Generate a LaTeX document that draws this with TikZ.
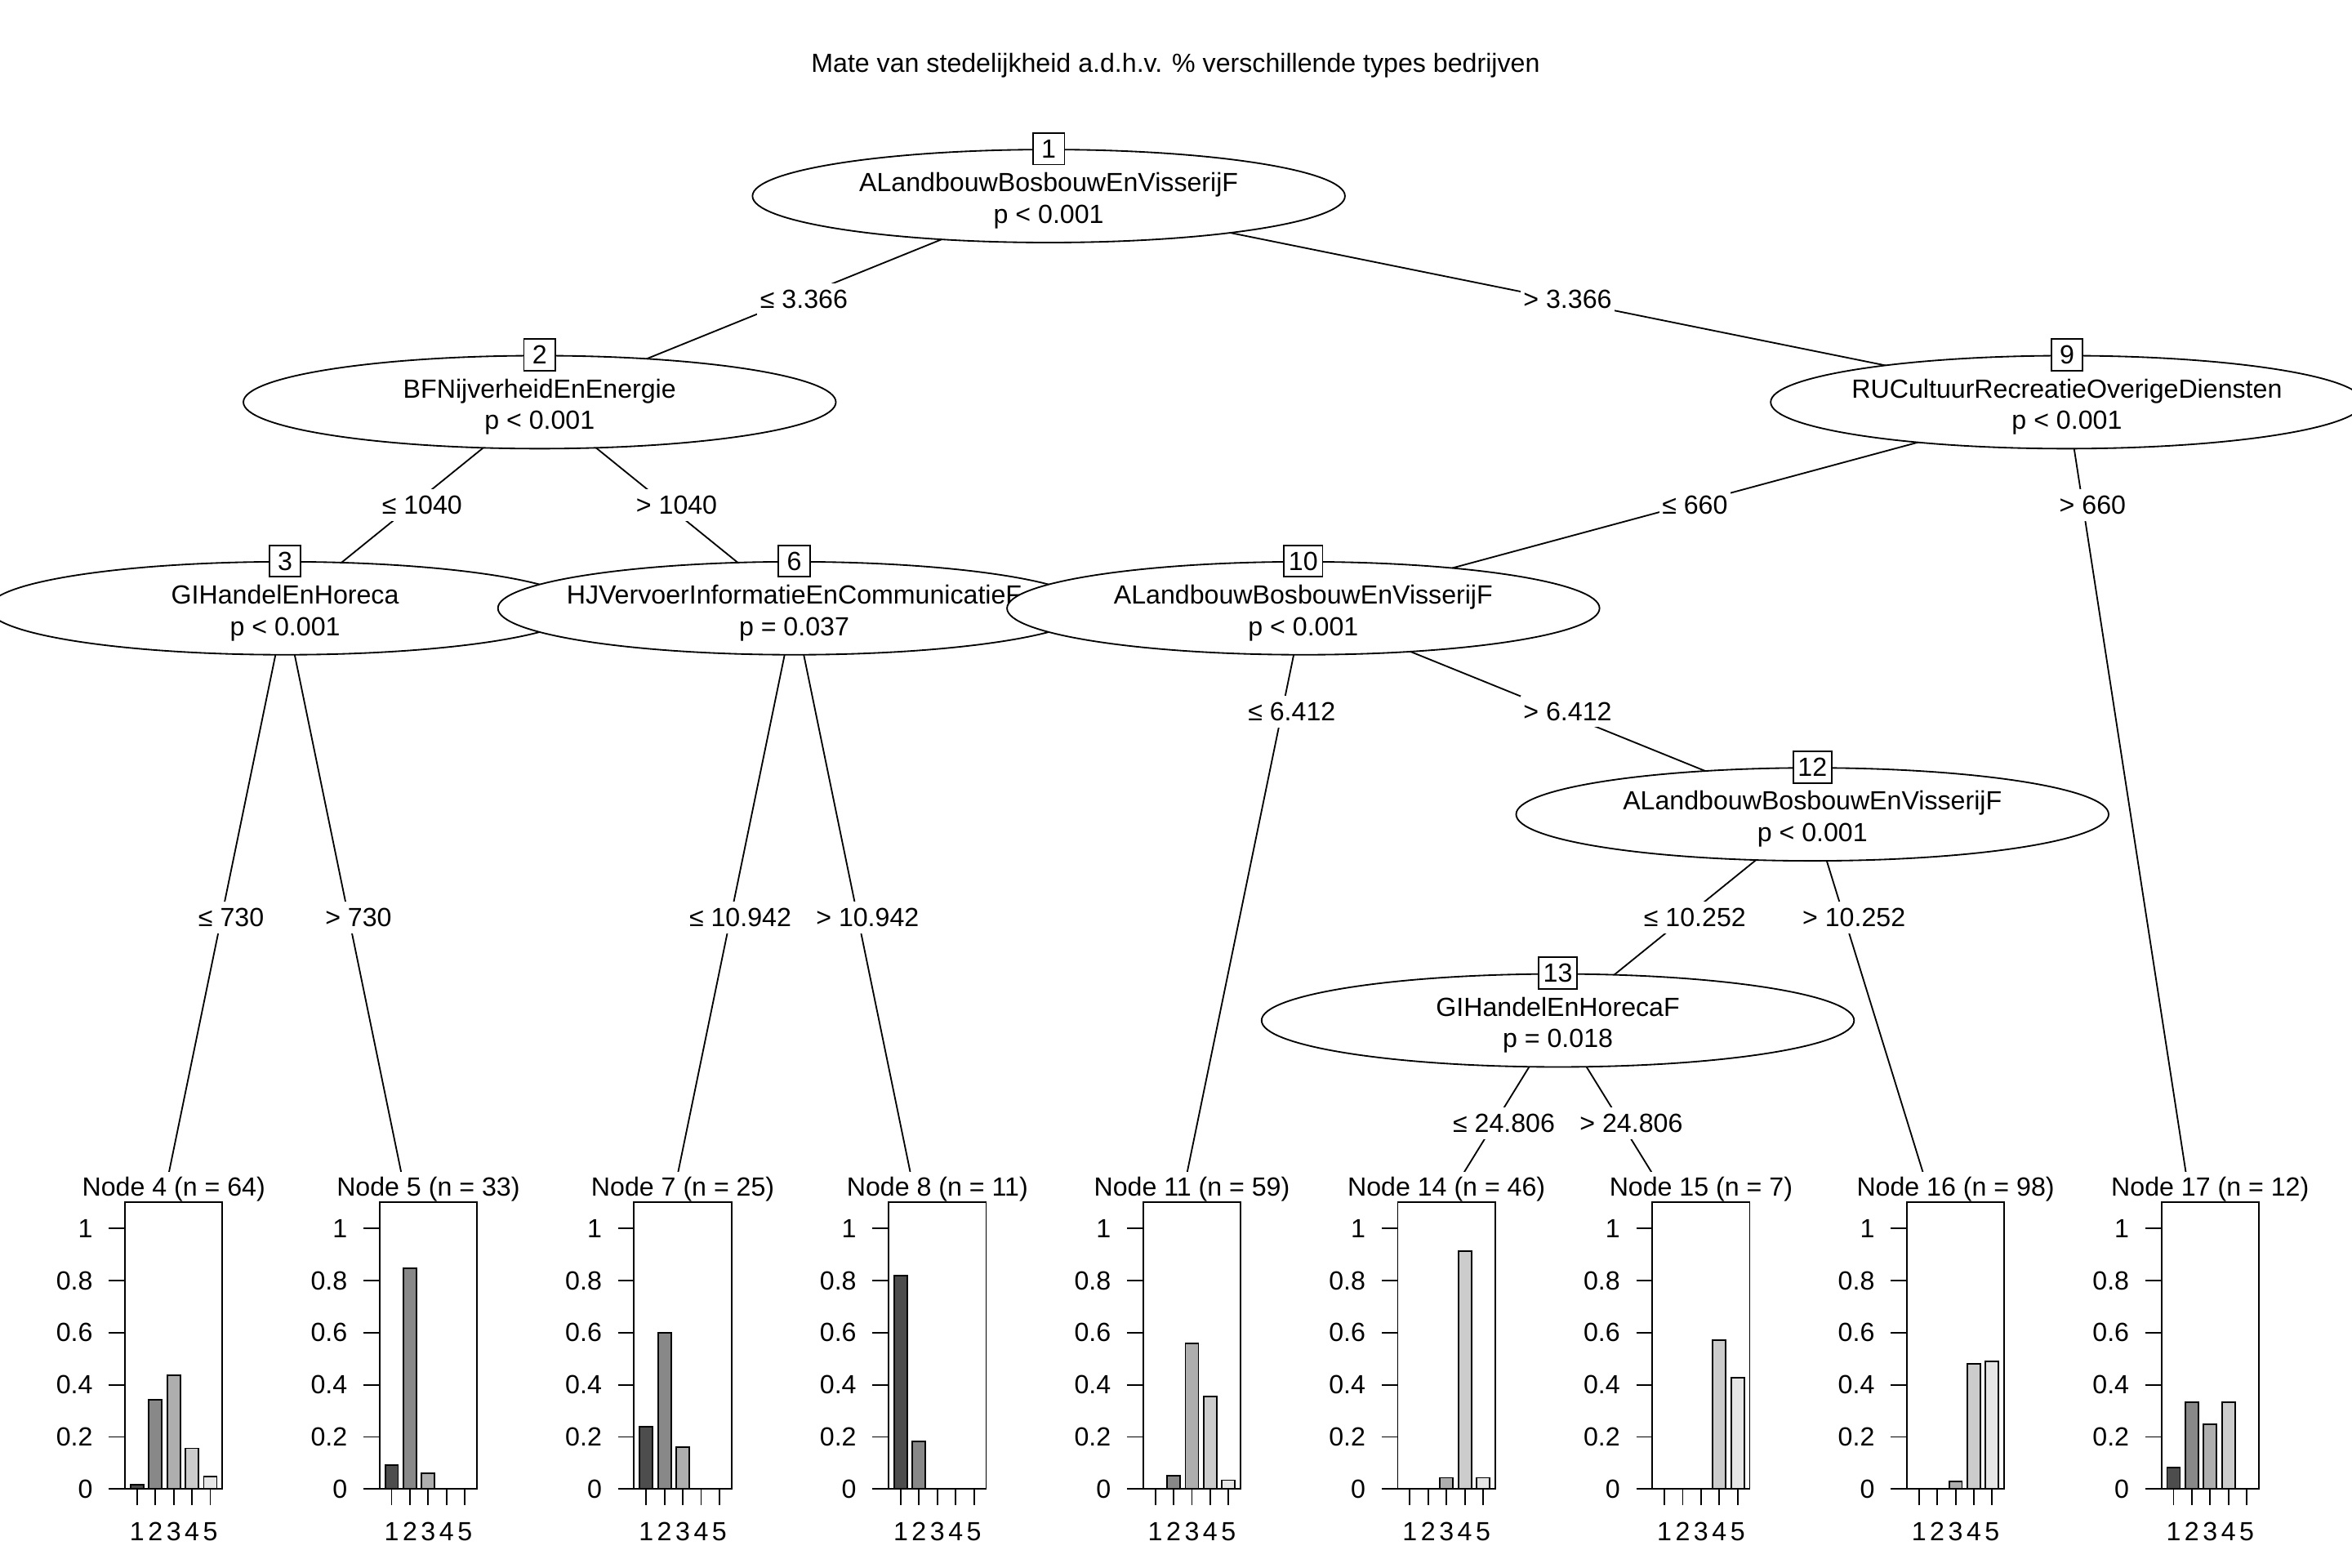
\documentclass[tikz,border=0pt]{standalone}
\usepackage{fontspec}
\setmainfont{Liberation Sans}
\usetikzlibrary{shapes.geometric,backgrounds}
\definecolor{bar1}{HTML}{4D4D4D}
\definecolor{bar2}{HTML}{888888}
\definecolor{bar3}{HTML}{AEAEAE}
\definecolor{bar4}{HTML}{CCCCCC}
\definecolor{bar5}{HTML}{E6E6E6}
% two centred lines that do not widen the ellipse
\newcommand{\splittext}[2]{\rule{0pt}{19pt}\makebox[0pt]{#1}\\\makebox[0pt]{#2}}
% terminal node: label, bar chart and axes
\newcommand{\barpanel}[4]{%
  \node[tlabel] (t#1) at (#3,797.6) {Node #1 (n = #2)};
  \coordinate (v#1) at ({#3-10.6},817.7);
  \begin{scope}[shift={(#3,992.7)}]
    \filldraw[fill=white] (-32.5,0) rectangle (32.5,-191.1);
    \foreach \h [count=\i] in {#4}
      \filldraw[fill=bar\i] ({(\i-3)*12.2-4.35},0) rectangle ++(8.7,{-\h*173.7});
    \draw (-32.5,0) rectangle (32.5,-191.1);
    \foreach \yv/\yl in {0/0,0.2/0.2,0.4/0.4,0.6/0.6,0.8/0.8,1/1} {
      \draw (-43.2,{-\yv*173.7}) -- (-32.5,{-\yv*173.7});
      \node[ticklab, anchor=east] at (-53.5,{-\yv*173.7}) {\yl};
    }
    \foreach \i in {1,...,5} {
      \draw ({(\i-3)*12.2},0) -- ({(\i-3)*12.2},10.9);
      \node[ticklab] at ({(\i-3)*12.2},28.3) {\i};
    }
  \end{scope}}

\begin{document}
\begin{tikzpicture}
        [x=1pt, y=-1pt, font=\fontsize{17.5}{21}\selectfont, line width=1pt,
        inner/.style={ellipse, draw, fill=white, minimum width=395,
        minimum height=62, inner sep=0pt, align=center},
        idbox/.style={draw, fill=white, minimum size=21, inner xsep=3.1pt,
        inner ysep=0pt},
        elabel/.style={fill=white, inner xsep=2pt, inner ysep=0pt,
        minimum height=21, xshift=6.5, pos=.5},
        tlabel/.style={fill=white, inner sep=0pt, text height=16.6,
        text depth=4.2, anchor=base},
        ticklab/.style={inner sep=0pt}]
        \useasboundingbox (0,0) rectangle (1568,1045.33);
        \node[anchor=base] (title) at (783.7,48.4)
            {Mate van stedelijkheid a.d.h.v. \% verschillende types bedrijven};

        % inner nodes
        \node[inner] (n1) at (699.15,130.7)
            {\splittext{ALandbouwBosbouwEnVisserijF}{p < 0.001}};
        \node[idbox] at (n1.north) {1};
        \node[inner] (n2) at (359.75,268.1)
            {\splittext{BFNijverheidEnEnergie}{p < 0.001}};
        \node[idbox] at (n2.north) {2};
        \node[inner] (n3) at (190.05,405.5)
            {\splittext{GIHandelEnHoreca}{p < 0.001}};
        \node[idbox] at (n3.north) {3};
        \node[inner] (n6) at (529.45,405.5)
            {\splittext{HJVervoerInformatieEnCommunicatieF}{p = 0.037}};
        \node[idbox] at (n6.north) {6};
        \node[inner] (n9) at (1377.95,268.1)
            {\splittext{RUCultuurRecreatieOverigeDiensten}{p < 0.001}};
        \node[idbox] at (n9.north) {9};
        \node[inner] (n10) at (868.85,405.5)
            {\splittext{ALandbouwBosbouwEnVisserijF}{p < 0.001}};
        \node[idbox] at (n10.north) {10};
        \node[inner] (n12) at (1208.25,542.9)
            {\splittext{ALandbouwBosbouwEnVisserijF}{p < 0.001}};
        \node[idbox] at (n12.north) {12};
        \node[inner] (n13) at (1038.55,680.3)
            {\splittext{GIHandelEnHorecaF}{p = 0.018}};
        \node[idbox] at (n13.north) {13};

        % terminal nodes
        \barpanel{4}{64}{115.8}{0.0156,0.3438,0.4375,0.1563,0.0469}
        \barpanel{5}{33}{285.5}{0.0909,0.8485,0.0606,0,0}
        \barpanel{7}{25}{455.2}{0.24,0.6,0.16,0,0}
        \barpanel{8}{11}{624.9}{0.8182,0.1818,0,0,0}
        \barpanel{11}{59}{794.6}{0,0.0508,0.5593,0.3559,0.0339}
        \barpanel{14}{46}{964.3}{0,0,0.0435,0.9130,0.0435}
        \barpanel{15}{7}{1134.0}{0,0,0,0.5714,0.4286}
        \barpanel{16}{98}{1303.7}{0,0,0.0306,0.4796,0.4898}
        \barpanel{17}{12}{1473.4}{0.0833,0.3333,0.25,0.3333,0}

        % edges
        \begin{scope}[on background layer={line width=1pt}]
        \draw (n1.center) -- (n2.center) node[elabel] {≤ 3.366};
        \draw (n1.center) -- (n9.center) node[elabel] {> 3.366};
        \draw (n2.center) -- (n3.center) node[elabel] {≤ 1040};
        \draw (n2.center) -- (n6.center) node[elabel] {> 1040};
        \draw (n3.center) -- (v4) node[elabel] {≤ 730};
        \draw (n3.center) -- (v5) node[elabel] {> 730};
        \draw (n6.center) -- (v7) node[elabel] {≤ 10.942};
        \draw (n6.center) -- (v8) node[elabel] {> 10.942};
        \draw (n9.center) -- (n10.center) node[elabel] {≤ 660};
        \draw (n9.center) -- (v17) node[elabel, pos=.125] {> 660};
        \draw (n10.center) -- (v11) node[elabel, pos=.167] {≤ 6.412};
        \draw (n10.center) -- (n12.center) node[elabel] {> 6.412};
        \draw (n12.center) -- (n13.center) node[elabel] {≤ 10.252};
        \draw (n12.center) -- (v16) node[elabel, pos=.25] {> 10.252};
        \draw (n13.center) -- (v14) node[elabel] {≤ 24.806};
        \draw (n13.center) -- (v15) node[elabel] {> 24.806};
        \end{scope}
\end{tikzpicture}
\end{document}
